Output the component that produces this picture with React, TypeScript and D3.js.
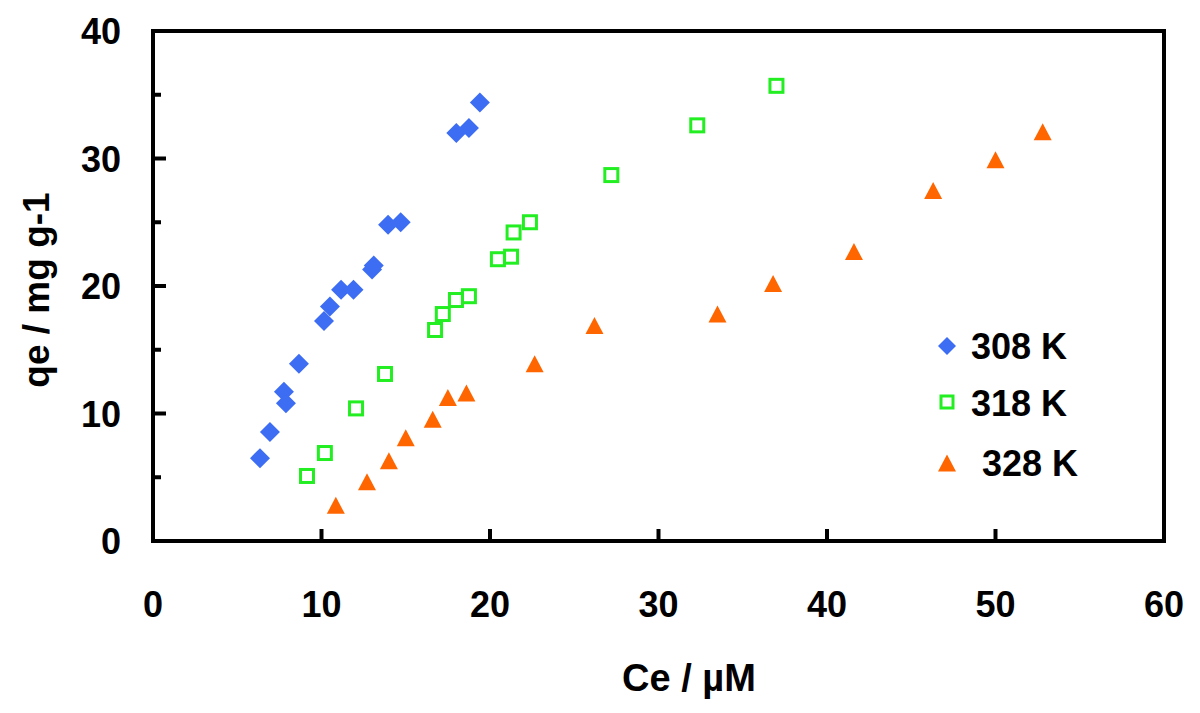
import React from "react";
import * as d3 from "d3";

const xTicks = [0, 10, 20, 30, 40, 50, 60];
const yTicks = [0, 10, 20, 30, 40];
const yMinorTicks = [5, 15, 25, 35];

const s308x = [6.35, 6.94, 7.77, 7.89, 8.66, 10.15, 10.5, 11.16, 11.9, 13.0, 13.1, 13.95, 14.7, 18.0, 18.75, 19.4];
const s308y = [6.5, 8.55, 11.7, 10.8, 13.9, 17.25, 18.4, 19.7, 19.7, 21.3, 21.6, 24.8, 25.0, 32.0, 32.4, 34.4];

const s318x = [9.14, 10.2, 12.05, 13.77, 16.74, 17.2, 17.98, 18.75, 20.47, 21.25, 21.4, 22.37, 27.2, 32.3, 37.0];
const s318y = [5.1, 6.9, 10.4, 13.1, 16.55, 17.8, 18.9, 19.2, 22.1, 22.3, 24.2, 25.0, 28.7, 32.6, 35.7];

const s328x = [10.85, 12.7, 14.0, 15.0, 16.6, 17.5, 18.6, 22.65, 26.2, 33.5, 36.8, 41.6, 46.3, 50.0, 52.8];
const s328y = [2.8, 4.65, 6.3, 8.1, 9.55, 11.25, 11.6, 13.9, 16.9, 17.8, 20.2, 22.7, 27.5, 29.9, 32.1];

const seriesNames = ["308 K", "318 K", "328 K"];
const BLUE = "#3d6df2";
const GREEN = "#22ee22";
const ORANGE = "#ff6600";
const FONT = "'Liberation Sans', Arial, sans-serif";

export default function App() {
  const L = 153, R = 1164, T = 31, B = 541;
  const x = d3.scaleLinear().domain([0, 60]).range([L, R]);
  const y = d3.scaleLinear().domain([0, 40]).range([B, T]);

  const diamond = (cx: number, cy: number, r: number) =>
    `M${cx},${cy - r}L${cx + r},${cy}L${cx},${cy + r}L${cx - r},${cy}Z`;
  const tri = (cx: number, cy: number, w: number, h: number) =>
    `M${cx},${cy - h / 2}L${cx + w / 2},${cy + h / 2}L${cx - w / 2},${cy + h / 2}Z`;

  return (
    <svg width={1200} height={713} style={{ position: "absolute", left: 0, top: 0, background: "#fff" }}>
      <rect x={0} y={0} width={1200} height={713} fill="#fff" />
      <rect x={L} y={T} width={R - L} height={B - T} fill="none" stroke="#000" strokeWidth={4} />
      {xTicks.slice(1, -1).map((t) => (
        <line key={"xt" + t} x1={x(t)} x2={x(t)} y1={B} y2={B - 12} stroke="#000" strokeWidth={4} />
      ))}
      {yTicks.slice(1, -1).map((t) => (
        <line key={"yt" + t} x1={L} x2={L + 13} y1={y(t)} y2={y(t)} stroke="#000" strokeWidth={4} />
      ))}
      {yMinorTicks.map((t) => (
        <line key={"ym" + t} x1={L} x2={L + 8} y1={y(t)} y2={y(t)} stroke="#000" strokeWidth={4} />
      ))}
      {xTicks.map((t) => (
        <text key={"xl" + t} x={x(t)} y={617} textAnchor="middle" fontFamily={FONT} fontWeight="bold" fontSize={36}>
          {t}
        </text>
      ))}
      {yTicks.map((t) => (
        <text key={"yl" + t} x={121} y={y(t) + 13} textAnchor="end" fontFamily={FONT} fontWeight="bold" fontSize={36}>
          {t}
        </text>
      ))}
      <text x={689} y={691} textAnchor="middle" fontFamily={FONT} fontWeight="bold" fontSize={38}>
        Ce / µM
      </text>
      <text
        transform={`translate(49,${290}) rotate(-90)`}
        textAnchor="middle"
        fontFamily={FONT}
        fontWeight="bold"
        fontSize={37}
      >
        qe / mg g-1
      </text>
      {s308x.map((v, i) => (
        <path key={"a" + i} d={diamond(x(v), y(s308y[i]), 10)} fill={BLUE} />
      ))}
      {s318x.map((v, i) => (
        <rect key={"b" + i} x={x(v) - 6.5} y={y(s318y[i]) - 6.5} width={13} height={13} fill="none" stroke={GREEN} strokeWidth={3} />
      ))}
      {s328x.map((v, i) => (
        <path key={"c" + i} d={tri(x(v), y(s328y[i]), 18, 17)} fill={ORANGE} />
      ))}
      <path d={diamond(947, 346, 9)} fill={BLUE} />
      <rect x={941} y={396} width={12} height={12} fill="none" stroke={GREEN} strokeWidth={3} />
      <path d={tri(947, 463, 18, 17)} fill={ORANGE} />
      <text x={971} y={359} fontFamily={FONT} fontWeight="bold" fontSize={36}>{seriesNames[0]}</text>
      <text x={971} y={416} fontFamily={FONT} fontWeight="bold" fontSize={36}>{seriesNames[1]}</text>
      <text x={982} y={476} fontFamily={FONT} fontWeight="bold" fontSize={36}>{seriesNames[2]}</text>
    </svg>
  );
}
